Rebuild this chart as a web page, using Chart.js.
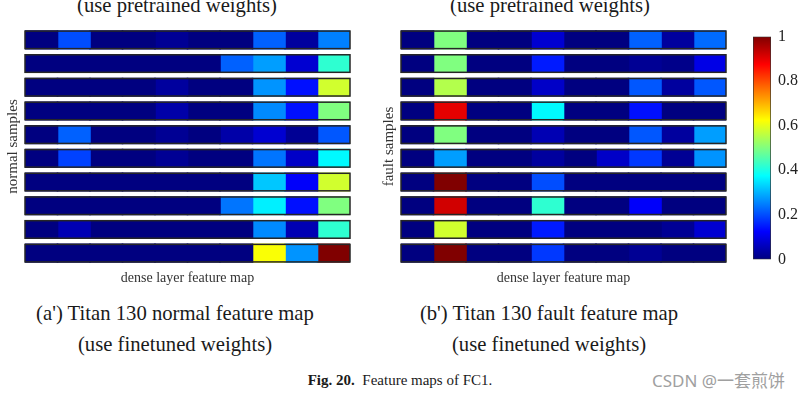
<!DOCTYPE html>
<html>
<head>
<meta charset="utf-8">
<script src="https://cdn.jsdelivr.net/npm/chart.js@4"></script>
<style>
  body { margin: 0; width: 803px; height: 396px; background: #fff; position: relative; overflow: hidden; }
  canvas { position: absolute; }
  .txt { position: absolute; font-family: "Liberation Serif", serif; color: #1a1a1a; white-space: nowrap; transform: translateX(-50%); }
  .big { font-size: 20.7px; }
</style>
</head>
<body>
<div class="txt big" style="left:177px; top:-6px;">(use pretrained weights)</div>
<div class="txt big" style="left:550px; top:-6px;">(use pretrained weights)</div>

<canvas id="normal-map" width="352" height="291" style="left:0px; top:0px;"></canvas>
<canvas id="fault-map" width="352" height="291" style="left:376px; top:0px;"></canvas>
<canvas id="colorbar" width="58" height="256" style="left:745px; top:20px;"></canvas>

<div class="txt big" style="left:175px; top:302px;">(a') Titan 130 normal feature map</div>
<div class="txt big" style="left:175px; top:333px;">(use finetuned weights)</div>
<div class="txt big" style="left:549px; top:302px;">(b') Titan 130 fault feature map</div>
<div class="txt big" style="left:549px; top:333px;">(use finetuned weights)</div>
<div class="txt" style="left:400px; top:372px; font-size:15px;"><b>Fig. 20.</b>&nbsp; Feature maps of FC1.</div>
<div style="position:absolute; left:652px; top:367px; font-family:'Noto Sans','Noto Sans CJK SC',sans-serif; font-size:17px; color:#a0a0a0;">CSDN @一套煎饼</div>

<script>
// rows = samples, columns = dense layer features
const sampleLabels = ['1', '2', '3', '4', '5', '6', '7', '8', '9', '10'];
const featureLabels = ['f1', 'f2', 'f3', 'f4', 'f5', 'f6', 'f7', 'f8', 'f9', 'f10'];

const normalValues = [
    [0, 0.20, 0, 0, 0.02, 0, 0, 0.22, 0.03, 0.25],
    [0, 0, 0, 0, 0, 0, 0.22, 0.28, 0.08, 0.42],
    [0, 0, 0, 0, 0.03, 0, 0, 0.27, 0.14, 0.58],
    [0, 0, 0, 0, 0.04, 0, 0, 0.26, 0.14, 0.50],
    [0, 0.22, 0, 0, 0.02, 0, 0.04, 0.08, 0.02, 0.21],
    [0, 0.19, 0, 0, 0.02, 0, 0, 0.24, 0.07, 0.37],
    [0, 0, 0, 0, 0, 0, 0, 0.32, 0.12, 0.58],
    [0, 0, 0, 0, 0, 0, 0.24, 0.36, 0.14, 0.50],
    [0, 0.05, 0, 0, 0, 0, 0, 0.26, 0.05, 0.42],
    [0, 0, 0, 0, 0, 0, 0, 0.62, 0.27, 1.00]
];

const faultValues = [
    [0, 0.50, 0, 0, 0.08, 0, 0, 0.22, 0.03, 0.23],
    [0, 0.50, 0, 0, 0.15, 0, 0, 0.02, 0.01, 0.10],
    [0, 0.55, 0, 0, 0.07, 0, 0, 0.21, 0.03, 0.21],
    [0, 0.90, 0, 0, 0.37, 0, 0, 0.14, 0, 0],
    [0, 0.50, 0, 0, 0.05, 0, 0, 0.21, 0.03, 0.28],
    [0, 0.28, 0, 0, 0.03, 0, 0.07, 0.18, 0.02, 0.27],
    [0, 1.00, 0, 0, 0.20, 0, 0, 0, 0, 0],
    [0, 0.92, 0, 0, 0.42, 0, 0, 0.12, 0, 0],
    [0, 0.58, 0, 0, 0.15, 0, 0, 0, 0.02, 0.08],
    [0, 1.00, 0, 0, 0.18, 0, 0, 0.02, 0, 0]
];

const colorbarTicks = [0, 0.2, 0.4, 0.6, 0.8, 1];

Chart.defaults.animation = false;
Chart.defaults.font.family = '"Liberation Serif", serif';
Chart.defaults.color = '#333';

function clamp(v) {
    return Math.max(0, Math.min(1, v));
}

// matlab style jet colormap
function jet(v) {
    const r = clamp(1.5 - Math.abs(4 * v - 3));
    const g = clamp(1.5 - Math.abs(4 * v - 2));
    const b = clamp(1.5 - Math.abs(4 * v - 1));
    return 'rgb(' + Math.round(r * 255) + ',' + Math.round(g * 255) + ',' + Math.round(b * 255) + ')';
}

// outline each sample row like the matlab axes boxes
const rowOutline = {
    id: 'rowOutline',
    afterDatasetsDraw(chart) {
        const ctx = chart.ctx;
        const first = chart.getDatasetMeta(0).data;
        const last = chart.getDatasetMeta(chart.data.datasets.length - 1).data;
        ctx.save();
        ctx.strokeStyle = '#262626';
        ctx.lineWidth = 1.5;
        first.forEach((bar, i) => {
            const a = bar.getProps(['base', 'y', 'height'], true);
            const b = last[i].getProps(['x'], true);
            ctx.strokeRect(a.base, a.y - a.height / 2, b.x - a.base, a.height);
        });
        ctx.restore();
    }
};

function makeMap(id, values, yTitle) {
    const datasets = featureLabels.map((f, c) => ({
        label: f,
        data: sampleLabels.map(() => 1),
        backgroundColor: values.map(row => jet(row[c])),
        borderWidth: 0,
        inflateAmount: 0.8,
        barPercentage: 0.74,
        categoryPercentage: 1
    }));

    return new Chart(document.getElementById(id), {
        type: 'bar',
        data: { labels: sampleLabels, datasets: datasets },
        options: {
            responsive: false,
            indexAxis: 'y',
            layout: { padding: { top: 28, left: 0, right: 2, bottom: 0 } },
            plugins: { legend: { display: false }, tooltip: { enabled: false } },
            scales: {
                x: {
                    stacked: true,
                    min: 0,
                    max: featureLabels.length,
                    ticks: { display: false },
                    grid: { display: false },
                    border: { display: false },
                    afterFit: (scale) => { scale.height = 26; },
                    title: { display: true, text: 'dense layer feature map', font: { size: 14 }, color: '#333', padding: { top: 5, bottom: 4 } }
                },
                y: {
                    stacked: true,
                    ticks: { display: false },
                    grid: { display: false },
                    border: { display: false },
                    afterFit: (scale) => { scale.width = 25; },
                    title: { display: true, text: yTitle, font: { size: 15 }, color: '#333' }
                }
            }
        },
        plugins: [rowOutline]
    });
}

makeMap('normal-map', normalValues, 'normal samples');
makeMap('fault-map', faultValues, 'fault samples');

// colorbar: one bar spanning 0..1 filled with the jet gradient
new Chart(document.getElementById('colorbar'), {
    type: 'bar',
    data: {
        labels: [''],
        datasets: [{
            data: [1],
            backgroundColor: (c) => {
                const area = c.chart.chartArea;
                if (!area) return '#000080';
                const grad = c.chart.ctx.createLinearGradient(0, area.bottom, 0, area.top);
                for (let i = 0; i <= 32; i++) {
                    grad.addColorStop(i / 32, jet(i / 32));
                }
                return grad;
            },
            borderColor: '#333',
            borderWidth: 1,
            borderSkipped: false,
            barPercentage: 1,
            categoryPercentage: 1
        }]
    },
    options: {
        responsive: false,
        layout: { padding: { top: 10, left: 8, right: 0, bottom: 16 } },
        plugins: { legend: { display: false }, tooltip: { enabled: false } },
        scales: {
            x: { display: false },
            y: {
                position: 'right',
                min: 0,
                max: 1,
                afterBuildTicks: (scale) => {
                    scale.ticks = colorbarTicks.map(v => ({ value: v }));
                },
                afterFit: (scale) => { scale.width = 32; },
                ticks: { font: { size: 16 }, color: '#222', padding: 7, callback: (v) => String(v) },
                grid: { display: false, drawTicks: false },
                border: { display: false }
            }
        }
    }
});
</script>
</body>
</html>
